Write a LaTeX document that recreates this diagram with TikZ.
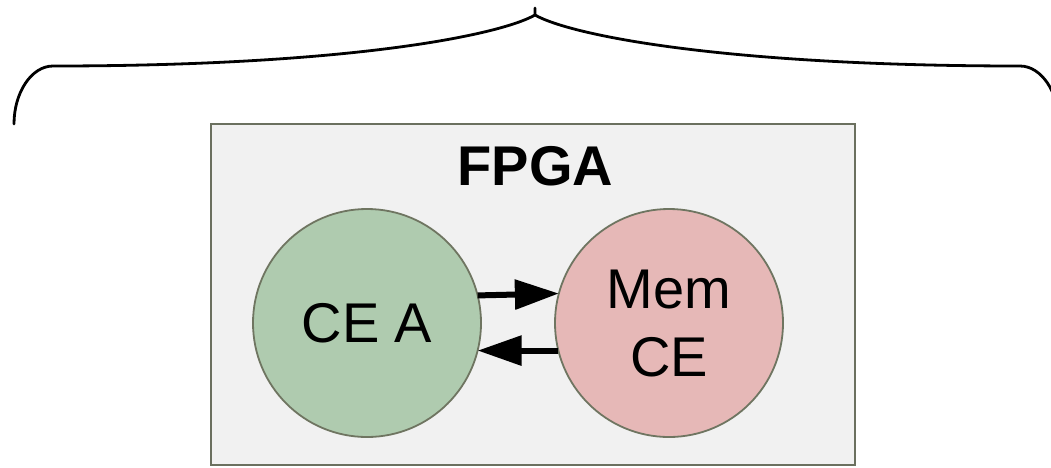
\documentclass[tikz,border=0pt]{standalone}
\usepackage{fontspec}
\setmainfont{Liberation Sans}
\usetikzlibrary{arrows.meta}
\definecolor{boxfill}{HTML}{F1F1F1}
\definecolor{boxline}{HTML}{6B705F}
\definecolor{cegreen}{HTML}{AFCBAF}
\definecolor{cepink}{HTML}{E6B8B7}
\definecolor{circline}{HTML}{6F7561}
\tikzset{
  ce/.style={circle, draw=circline, line width=1.8pt, minimum size=228pt, inner sep=0pt, outer sep=0pt,
             align=center, font=\fontsize{56}{68}\selectfont},
  flow/.style={line width=6pt, -{Triangle[length=44pt,width=29pt]}},
  bracepath/.style={line width=2.8pt, line join=round, line cap=round},
}
\begin{document}
\begin{tikzpicture}[x=1pt,y=-1pt]
\useasboundingbox (0,0) rectangle (1051,467);
\begin{scope}
\clip (0,0) rectangle (1051,467);
\draw[bracepath] (14,124) .. controls (14,92.5) and (31.5,66) .. (53,66)
   .. controls (350,66) and (500,35) .. (535,15) -- (535,8);
\draw[bracepath] (535,15) .. controls (570,35) and (722,66) .. (1020,66)
   .. controls (1041.5,66) and (1059,92.5) .. (1059,124);
\end{scope}
\node[draw=boxline, fill=boxfill, line width=2.4pt, minimum width=644pt, minimum height=341pt,
      inner sep=0pt, outer sep=0pt] (fpga) at (533,294.5) {};
\node[font=\bfseries\fontsize{56}{64}\selectfont] (title) at (535.5,166.5) {FPGA};
\node[ce, fill=cegreen] (a) at (367,323) {CE A};
\node[ce, fill=cepink] (m) at (669,323) {Mem\\CE};
\draw[flow] (a.14.5) -- (m.165.5);
\draw[flow] (m.194.5) -- (a.-14.5);
\end{tikzpicture}
\end{document}
